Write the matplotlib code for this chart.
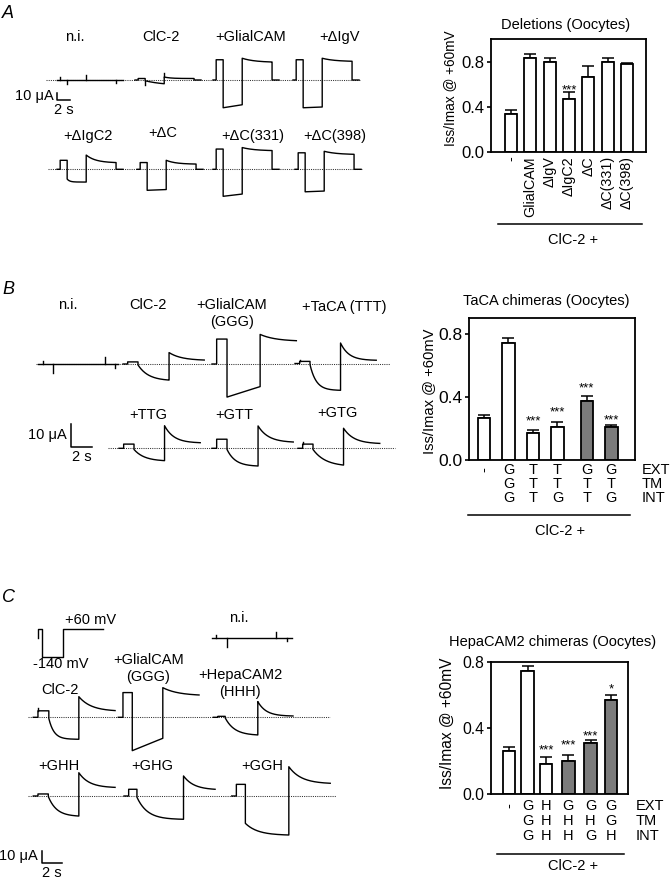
import numpy as np
import matplotlib
matplotlib.use("Agg")
import matplotlib.pyplot as plt

plt.rcParams['font.family'] = ['Liberation Sans', 'DejaVu Sans']

W, H = 672, 881

# ---------------- bar chart data ----------------
del_labels = ["-", "GlialCAM", "ΔIgV", "ΔIgC2", "ΔC", "ΔC(331)", "ΔC(398)"]
del_mean = [0.34, 0.83, 0.80, 0.47, 0.66, 0.80, 0.78]
del_sem = [0.035, 0.035, 0.03, 0.06, 0.10, 0.03, 0.01]
del_stars = ["", "", "", "***", "", "", ""]
del_star_y = [0, 0, 0, 0.59, 0, 0, 0]

taca_ext = ["-", "G", "T", "T", "G", "G"]
taca_tm = ["", "G", "T", "T", "T", "T"]
taca_int = ["", "G", "T", "G", "T", "G"]
taca_mean = [0.263, 0.743, 0.173, 0.21, 0.373, 0.206]
taca_sem = [0.023, 0.027, 0.014, 0.028, 0.033, 0.017]
taca_stars = ["", "", "***", "***", "***", "***"]
taca_star_y = [0, 0, 0.273, 0.33, 0.48, 0.28]
taca_gray = [False, False, False, False, True, True]

hepa_ext = ["-", "G", "H", "G", "G", "G"]
hepa_tm = ["", "G", "H", "H", "H", "G"]
hepa_int = ["", "G", "H", "H", "G", "H"]
hepa_mean = [0.26, 0.745, 0.179, 0.20, 0.306, 0.569]
hepa_sem = [0.024, 0.029, 0.047, 0.036, 0.021, 0.03]
hepa_stars = ["", "", "***", "***", "***", "*"]
hepa_star_y = [0, 0, 0.29, 0.32, 0.379, 0.661]
hepa_gray = [False, False, False, True, True, True]

# ---------------- current traces (uA, s) ----------------
# A: deletions
trA_names = ["n.i.", "ClC-2", "+GlialCAM", "+ΔIgV", "+ΔIgC2", "+ΔC", "+ΔC(331)", "+ΔC(398)"]
trA_pre = [0, 2, 27, 27, 12, 9, 27, 22]
trA_hyp0 = [0, -1, -37, -37, -13, -28, -36, -30]
trA_hyp1 = [0, -5, -33, -36, -17, -27, -33, -29]
trA_htau = [1, 3, 99, 99, 0.4, 99, 99, 99]
trA_tail0 = [0, 4, 29, 29, 19, 12, 29, 24]
trA_tail1 = [0, 2, 24, 25, 9, 7, 25, 20]
trA_ttau = [1, 1, 2, 2, 1.5, 1.5, 2, 2]
trA_spike = [[4, -5, 7, -4], [0, -5, 6, 0], [0, 0, 0, 0], [0, 0, 0, 0],
             [0, 0, 0, 0], [0, 0, 0, 0], [0, 0, 0, 0], [0, 0, 0, 0]]

# B: TaCA chimeras
trB_names = ["n.i.", "ClC-2", "+GlialCAM\n(GGG)", "+TaCA (TTT)", "+TTG", "+GTT", "+GTG"]
trB_pre = [0, 0.9, 10.7, 0.9, 1.8, 3.9, 1.8]
trB_hyp0 = [0, -0.4, -14.2, -0.5, -0.5, -0.5, -0.5]
trB_hyp1 = [0, -6.9, -9.7, -11.5, -5.3, -7.6, -7.2]
trB_htau = [1, 1.0, 99, 0.6, 1.0, 0.8, 1.2]
trB_tail0 = [0, 4.9, 12.7, 8.8, 9.7, 9.6, 8.6]
trB_tail1 = [0, 1.7, 10.0, 1.4, 2.4, 2.7, 2.1]
trB_ttau = [1, 1.2, 1.5, 0.8, 0.9, 1.0, 1.0]
trB_hyp_s = [5.0, 3.0, 3.2, 2.95, 2.95, 3.0, 2.95]
trB_dep_s = [1.0, 3.4, 3.5, 3.45, 3.45, 3.4, 3.5]
trB_after_s = [0.3, 0, 0, 0, 0, 0, 0]
trB_spike = [[1.3, -3.7, 2.9, -1.7], [0, 0, 0, 0], [0, 0, 0, 0], [0.8, 0, 0, 0],
             [0, 0, 0, 0], [0, 0, 0, 0], [0.8, 0, 0, 0]]

# C: HepaCAM2 chimeras
trC_names = ["ClC-2", "+GlialCAM\n(GGG)", "+HepaCAM2\n(HHH)", "n.i.", "+GHH", "+GHG", "+GGH"]
trC_pre = [5.4, 20.6, 0.8, 0, 1.7, 5.6, 9.7]
trC_hyp0 = [-1, -27.8, -0.5, 0, -0.5, -1, -22.8]
trC_hyp1 = [-18.3, -17.5, -14.7, 0, -16.7, -19.4, -32.5]
trC_htau = [0.5, 99, 0.9, 1, 0.8, 1.0, 1.2]
trC_tail0 = [17.2, 24.7, 13.1, 0, 19.4, 16.7, 24.4]
trC_tail1 = [5.6, 18.6, 1.1, 0, 7.2, 5.6, 10.6]
trC_ttau = [1.2, 1.5, 0.8, 1, 1.0, 1.0, 1.2]
trC_pre_s = [1.05, 0.9, 0.7, 1.0, 1.0, 0.8, 0.87]
trC_hyp_s = [2.9, 2.95, 3.15, 4.8, 2.95, 4.5, 4.2]
trC_dep_s = [3.5, 3.5, 3.4, 1.0, 3.5, 3.05, 4.0]
trC_after_s = [0, 0, 0, 0.5, 0, 0, 0]
trC_spike = [[2, 0, 0, 0], [0, 0, 0, 0], [0, 0, 0, 0], [2.5, -7.5, 5, -2.5],
             [0, 0, 0, 0], [0, 0, 0, 0], [0, 0, 0, 0]]

# voltage protocol (mV, s)
proto_mV = [0, 60, -140, 60]
proto_s = [0.4, 1.95, 3.9]

fig = plt.figure(figsize=(W / 100, H / 100), dpi=100)
ov = fig.add_axes([0, 0, 1, 1])
ov.set_xlim(0, W)
ov.set_ylim(H, 0)
ov.axis('off')

FS = 10.5


def relax(t, T, a, b, tau):
    w = (np.exp(-t / tau) - np.exp(-T / tau)) / (1 - np.exp(-T / tau))
    return b + (a - b) * w


def draw_trace(x0, y0, px_s, px_ua, lead, pre, hyp, dep, after,
               i_pre, h0, h1, htau, p0, p1, ptau, spikes):
    th = np.linspace(0, hyp, 80)
    td = np.linspace(0, dep, 80)
    t1 = lead + pre
    t2 = t1 + hyp
    t3 = t2 + dep
    t = np.concatenate([[0, lead, lead, t1], t1 + th, t2 + td])
    i = np.concatenate([[0, 0, i_pre, i_pre],
                        relax(th, hyp, h0, h1, htau),
                        relax(td, dep, p0, p1, ptau)])
    if after > 0:
        t = np.concatenate([t, [t3, t3 + after]])
        i = np.concatenate([i, [0, 0]])
    ov.plot(x0 + t * px_s, y0 - i * px_ua, color='k', lw=1.0, zorder=3)
    # capacitive transients at the voltage steps
    for ts, amp in zip([lead, t1, t2, t3], spikes):
        if amp:
            base = np.interp(ts + 1e-6, t, i)
            ov.plot([x0 + ts * px_s] * 2, [y0 - base * px_ua, y0 - (base + amp) * px_ua],
                    color='k', lw=1.0, zorder=3)


def zero_line(x1, x2, y):
    ov.plot([x1, x2], [y, y], color='#333333', lw=0.75, ls=(0, (1, 1.1)), zorder=2)


def label(x, y, s, **kw):
    for k, ln in enumerate(s.split("\n")):
        ov.text(x, y + k * 17, ln, ha='center', va='center', fontsize=FS, **kw)


def scale_bar(x, y, px_ua, px_s, lab_y, s_y):
    ov.plot([x, x, x + 2 * px_s], [y - 10 * px_ua, y, y], color='k', lw=1.1)
    ov.text(x - 4, lab_y, "10 μA", ha='right', va='center', fontsize=FS)
    ov.text(x + px_s, s_y, "2 s", ha='center', va='center', fontsize=FS)


# ---------------- panel letters ----------------
for lt, yy in zip("ABC", [14, 289, 597]):
    ov.text(2, yy, lt, ha='left', va='center', fontsize=13, style='italic')

# ---------------- Panel A traces ----------------
pxs_A, pxu_A = 6.35, 0.75
A_x0 = [57, 135, 213, 293, 57, 137, 213, 295]
A_y0 = [80, 80, 80, 80, 169.3, 169.3, 169.3, 169.3]
A_lab = [(75, 37), (161, 37), (251, 37), (340, 37), (88, 136), (163, 133), (253, 136), (335, 136)]
zero_line(46, 360, 80)
zero_line(48, 363, 169.3)
for k in range(len(trA_names)):
    draw_trace(A_x0[k], A_y0[k], pxs_A, pxu_A, 0.5, 1.1, 3.0, 4.7, 1.1,
               trA_pre[k], trA_hyp0[k], trA_hyp1[k], trA_htau[k],
               trA_tail0[k], trA_tail1[k], trA_ttau[k], trA_spike[k])
    label(A_lab[k][0], A_lab[k][1], trA_names[k])
scale_bar(57.3, 100, pxu_A, pxs_A, 96, 110)

# ---------------- Panel B traces ----------------
pxs_B, pxu_B = 10.35, 2.33
B_x0 = [38, 123, 212, 295, 119, 212, 298]
B_y0 = [364, 364, 364, 363.5, 448.3, 448.3, 448.3]
B_lab = [(68, 305), (148, 305), (232, 305), (344, 307), (148, 415), (234, 415), (337, 413)]
zero_line(36, 390, 364)
zero_line(108, 395, 448.3)
for k in range(len(trB_names)):
    draw_trace(B_x0[k], B_y0[k], pxs_B, pxu_B, 0.45, 1.0, trB_hyp_s[k], trB_dep_s[k], trB_after_s[k],
               trB_pre[k], trB_hyp0[k], trB_hyp1[k], trB_htau[k],
               trB_tail0[k], trB_tail1[k], trB_ttau[k], trB_spike[k])
    label(B_lab[k][0], B_lab[k][1], trB_names[k])
scale_bar(71, 447.3, pxu_B, pxs_B, 435, 457)

# ---------------- Panel C traces ----------------
pxs_C, pxu_C = 10.35, 1.2
C_x0 = [33.3, 118.3, 213.3, 211.7, 33.3, 124, 231.7]
C_y0 = [717.3, 717.3, 717.3, 638.3, 796, 796, 796]
C_lab = [(60, 690.5), (148.5, 659.5), (240, 675), (238.5, 617.5), (58.5, 766), (152, 766), (262, 766)]
zero_line(28, 330, 717.3)
zero_line(28, 336, 796)
for k in range(len(trC_names)):
    draw_trace(C_x0[k], C_y0[k], pxs_C, pxu_C, 0.45, trC_pre_s[k], trC_hyp_s[k], trC_dep_s[k],
               trC_after_s[k], trC_pre[k], trC_hyp0[k], trC_hyp1[k], trC_htau[k],
               trC_tail0[k], trC_tail1[k], trC_ttau[k], trC_spike[k])
    label(C_lab[k][0], C_lab[k][1], trC_names[k])
scale_bar(41.7, 862.7, pxu_C, pxs_C, 856, 873)

# voltage protocol
px_mV = 0.14
pt = np.concatenate([[0], np.cumsum([0] + proto_s)])
pt = np.repeat(pt, 2)[1:-1]
pv = np.repeat(proto_mV, 2)
ov.plot(38.3 + pt * pxs_C, 637.7 - pv * px_mV, color='k', lw=1.0)
ov.text(65, 620, "+60 mV", ha='left', va='center', fontsize=FS)
ov.text(61, 664, "-140 mV", ha='center', va='center', fontsize=FS)


# ---------------- bar charts ----------------
def bar_axes(box, pos, mean, sem, gray, xlim, ylim, width, stars, star_y, tick_fs):
    l, t, r, b = box
    ax = fig.add_axes([l / W, 1 - b / H, (r - l) / W, (b - t) / H])
    cols = ['#7b7b7b' if g else 'white' for g in gray]
    ax.errorbar(pos, mean, yerr=[np.zeros(len(sem)), sem], fmt='none', ecolor='k',
                elinewidth=1.1, capsize=4, capthick=1.1, zorder=1)
    ax.bar(pos, mean, width=width, color=cols, edgecolor='k', linewidth=1.3, zorder=2)
    for p, s, sy in zip(pos, stars, star_y):
        if s:
            ax.annotate(s, (p, sy), xytext=(0, -5.5), textcoords='offset points',
                        ha='center', va='baseline', fontsize=9.5)
    ax.set_xlim(*xlim)
    ax.set_ylim(*ylim)
    ax.set_yticks([0, 0.4, 0.8])
    ax.set_yticklabels(["0.0", "0.4", "0.8"])
    ax.tick_params(axis='y', direction='out', length=3, width=1.2, pad=1.5, labelsize=tick_fs)
    ax.tick_params(axis='x', length=0)
    for sp in ax.spines.values():
        sp.set_linewidth(1.3)
    return ax


def letter_rows(ax, box, pos, rows, rows_y, names, name_x):
    l, t, r, b = box
    tr = ax.get_xaxis_transform()
    for row, yp in zip(rows, rows_y):
        yf = (b - yp) / (b - t)
        for p, s in zip(pos, row):
            if s:
                ax.text(p, yf, s, transform=tr, ha='center', va='center', fontsize=10.5,
                        rotation=90 if s == "-" else 0, clip_on=False)
    for nm, yp in zip(names, rows_y):
        ov.text(name_x, yp, nm, ha='left', va='center', fontsize=10.5)


# A: deletions
boxA = (491, 39, 646, 152)
axA = bar_axes(boxA, np.arange(7), del_mean, del_sem, [False] * 7, (-1.03, 6.98), (0, 1.0),
               0.62, del_stars, del_star_y, 12)
axA.set_xticks(np.arange(7))
axA.set_xticklabels(del_labels, rotation=90, fontsize=10.3)
axA.tick_params(axis='x', pad=3)
ov.text(566, 25, "Deletions (Oocytes)", ha='center', va='center', fontsize=10.5)
ov.text(450, 88, "Iss/Imax @ +60mV", ha='center', va='center', rotation=90, fontsize=9.8)
ov.plot([498, 642], [224, 224], color='k', lw=1.1)
ov.text(573, 240, "ClC-2 +", ha='center', va='center', fontsize=10.5)

# B: TaCA
boxB = (469, 317.7, 634.7, 460)
posB = [0, 1, 2, 3, 4.2, 5.2]
axB = bar_axes(boxB, posB, taca_mean, taca_sem, taca_gray, (-0.61, 6.15), (0, 0.9),
               0.51, taca_stars, taca_star_y, 12.5)
axB.set_xticks([])
letter_rows(axB, boxB, posB, [taca_ext, taca_tm, taca_int], [470, 484, 498],
            ["EXT", "TM", "INT"], 641.5)
ov.text(546, 300.5, "TaCA chimeras (Oocytes)", ha='center', va='center', fontsize=10.5)
ov.text(429.5, 391, "Iss/Imax @ +60mV", ha='center', va='center', rotation=90, fontsize=10.6)
ov.plot([468, 630], [515, 515], color='k', lw=1.1)
ov.text(560, 531, "ClC-2 +", ha='center', va='center', fontsize=10.5)

# C: HepaCAM2
boxC = (490.7, 661.7, 628.3, 794)
posC = [0, 1, 2, 3.2, 4.4, 5.5]
axC = bar_axes(boxC, posC, hepa_mean, hepa_sem, hepa_gray, (-0.99, 6.44), (0, 0.8),
               0.69, hepa_stars, hepa_star_y, 11.3)
axC.set_xticks([])
letter_rows(axC, boxC, posC, [hepa_ext, hepa_tm, hepa_int], [806, 821, 835.5],
            ["EXT", "TM", "INT"], 636)
ov.text(553, 641.7, "HepaCAM2 chimeras (Oocytes)", ha='center', va='center', fontsize=10.5)
ov.text(447.3, 723, "Iss/Imax @ +60mV", ha='center', va='center', rotation=90, fontsize=11.2)
ov.plot([496.7, 624.3], [854, 854], color='k', lw=1.1)
ov.text(573, 866, "ClC-2 +", ha='center', va='center', fontsize=10.5)

fig.savefig("out.png", dpi=100)
